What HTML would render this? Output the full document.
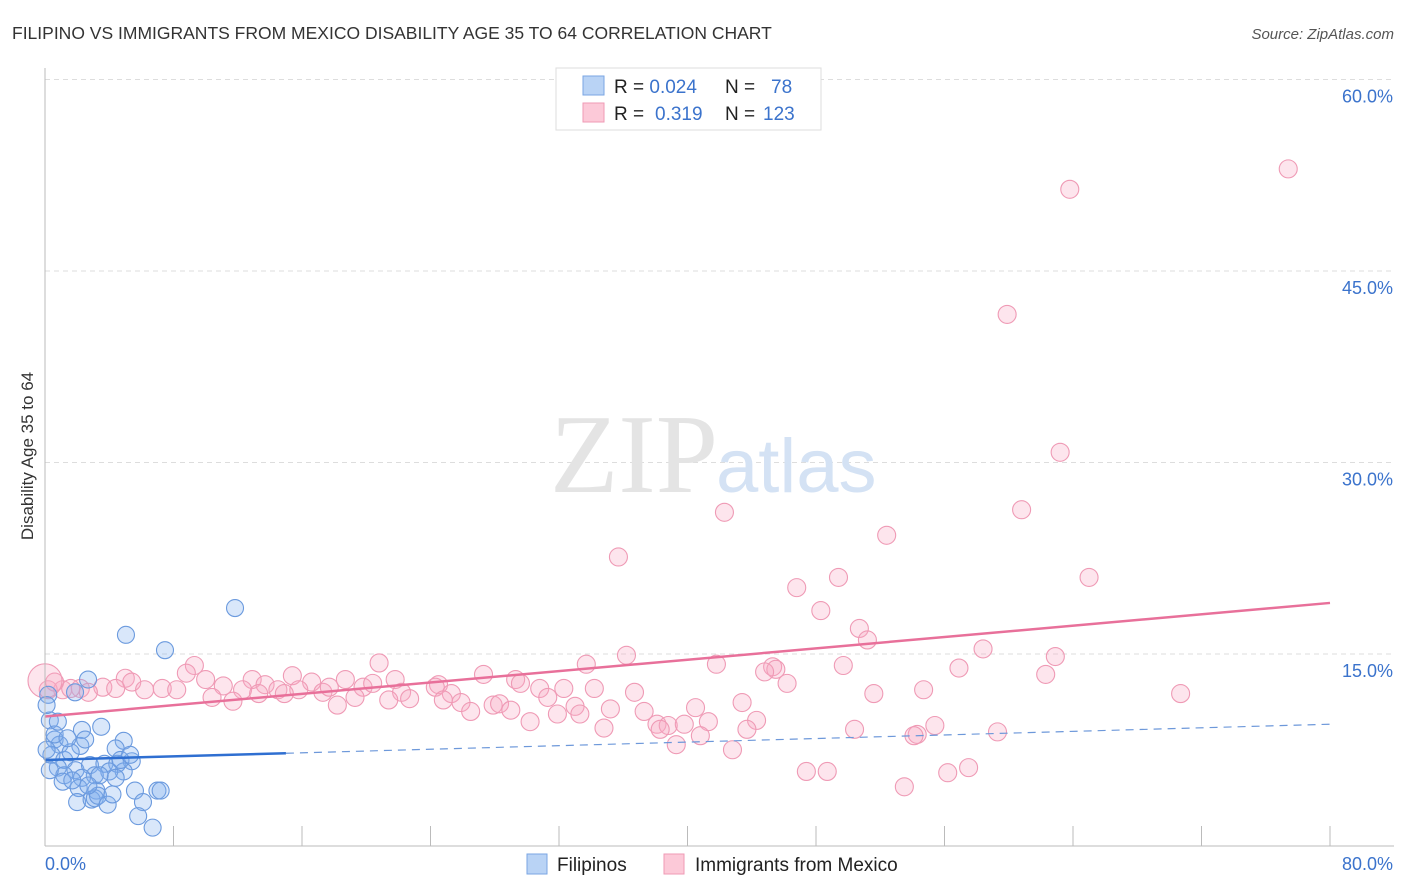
<!DOCTYPE html>
<html><head><meta charset="utf-8">
<style>
body{margin:0;background:#fff;font-family:"Liberation Sans",sans-serif;}
#wrap{position:relative;width:1406px;height:892px;overflow:hidden;}
</style></head>
<body>
<div id="wrap">
<svg id="svg" width="1406" height="892" xmlns="http://www.w3.org/2000/svg">
<text x="12" y="39" font-size="17.5" fill="#333">FILIPINO VS IMMIGRANTS FROM MEXICO DISABILITY AGE 35 TO 64 CORRELATION CHART</text>
<text x="1394" y="39" font-size="15" fill="#555" font-style="italic" text-anchor="end">Source: ZipAtlas.com</text>
<text x="33" y="456" font-size="17" fill="#333" text-anchor="middle" transform="rotate(-90 33 456)">Disability Age 35 to 64</text>
<g id="grid"></g>
<text x="718" y="492" font-size="112" fill="#e4e4e4" text-anchor="end" font-family="Liberation Serif">ZIP</text>
<text x="716" y="492" font-size="76" fill="#d4e2f4">atlas</text>
<g id="pts"></g>
<g id="lines"></g>
<g id="axes"></g>
<g>
<rect x="556" y="68" width="265" height="62" fill="#fff" stroke="#ddd"/>
<rect x="583" y="76" width="21" height="19" fill="#b9d3f5" stroke="#7aa6e3"/>
<rect x="583" y="103" width="21" height="19" fill="#fcc9d8" stroke="#ef9ab5"/>
<text x="614" y="93" font-size="19" fill="#222">R = <tspan fill="#3b73cc">0.024</tspan><tspan x="725">N = </tspan><tspan x="771" fill="#3b73cc">78</tspan></text>
<text x="614" y="120" font-size="19" fill="#222">R = <tspan x="655" fill="#3b73cc">0.319</tspan><tspan x="725">N = </tspan><tspan x="763" fill="#3b73cc">123</tspan></text>
</g>
<g>
<rect x="527" y="854" width="20" height="20" fill="#b9d3f5" stroke="#7aa6e3"/>
<text x="557" y="871" font-size="19" fill="#222">Filipinos</text>
<rect x="664" y="854" width="20" height="20" fill="#fcc9d8" stroke="#ef9ab5"/>
<text x="695" y="871" font-size="19" fill="#222">Immigrants from Mexico</text>
</g>
</svg>
</div>
<script>
const yTicks=[15,30,45,60];
const yTickLabels=["15.0%","30.0%","45.0%","60.0%"];
const xTickLabels=["0.0%","80.0%"];
const blueX=[11.83,5.04,7.47,2.68,1.87,0.2,0.3,2.3,3.5,4.9,4.4,2.2,0.6,0.9,0.4,1.2,1.6,0.8,1.9,2.8,3.7,4.5,5.4,4.9,4.0,3.1,1.2,2.3,4.4,1.1,2.1,3.2,5.6,7.0,7.2,2.0,2.9,3.1,3.3,3.9,6.1,5.8,6.7,0.3,0.1,0.6,1.4,2.5,3.4,4.7,1.7,2.7,0.8,0.1,5.3,4.2];
const blueY=[18.6,16.5,15.3,13.0,12.0,11.8,9.8,9.05,9.3,8.2,7.6,7.8,8.3,7.9,7.1,6.7,7.3,6.1,5.9,6.3,6.4,6.4,6.6,5.8,5.8,5.5,5.5,5.3,5.3,5.0,4.5,4.3,4.3,4.3,4.3,3.4,3.6,3.7,3.9,3.2,3.4,2.3,1.4,5.9,7.5,8.7,8.4,8.3,5.5,6.7,5.1,4.7,9.7,11.0,7.1,4.0];
const pinkX=[77.4,63.8,59.9,63.2,42.3,60.8,52.4,35.7,65.0,49.4,46.8,48.3,50.7,51.2,36.2,62.9,58.4,41.8,33.7,20.8,45.3,45.5,49.7,56.9,9.3,8.8,15.4,27.3,44.8,62.3,46.2,29.3,29.6,21.8,18.7,16.6,12.9,5.0,5.4,1.1,2.2,3.6,4.4,6.2,7.3,8.2,10.0,11.1,12.3,13.7,14.5,15.8,17.3,17.7,19.8,20.4,22.2,24.5,24.3,25.3,30.8,32.3,34.2,36.7,54.7,51.6,70.7,10.4,11.7,13.3,14.9,19.3,21.4,22.7,24.8,18.2,25.9,27.9,28.3,31.3,33.0,29.0,26.5,31.9,33.3,35.2,37.3,40.5,43.4,30.2,38.1,38.8,39.8,41.3,44.3,55.4,34.8,38.3,43.7,50.4,54.3,54.1,59.3,40.8,39.3,42.8,47.4,48.7,56.2,57.5,53.5,0.2,0.6,1.6,2.7];
const pinkY=[53.0,51.4,41.6,30.8,26.1,26.3,24.3,22.6,21.0,21.0,20.2,18.4,17.0,16.1,14.9,14.8,15.4,14.2,14.2,14.3,14.0,13.8,14.1,13.9,14.1,13.5,13.3,13.4,13.6,13.4,12.7,13.0,12.7,13.0,13.0,12.8,13.0,13.1,12.8,12.2,12.3,12.4,12.3,12.2,12.3,12.2,13.0,12.5,12.2,12.6,12.2,12.2,12.0,12.4,12.4,12.7,12.0,12.6,12.4,11.9,12.3,12.3,12.3,12.0,12.2,11.9,11.9,11.6,11.3,11.9,11.9,11.6,11.4,11.5,11.4,11.0,11.2,11.0,11.1,11.6,10.9,10.6,10.5,10.3,10.3,10.7,10.5,10.8,11.2,9.7,9.5,9.4,9.5,9.7,9.8,9.4,9.2,9.1,9.1,9.1,8.7,8.6,8.9,8.6,7.9,7.5,5.8,5.8,5.7,6.1,4.6,12.2,12.8,12.3,12.0];
const blueTrend=[6.7,9.5];
const pinkTrend=[10.1,19.0];
const NS="http://www.w3.org/2000/svg";
const X0=45,X1=1330,Y0=845.5,YPER=191.5/15;
const sx=v=>X0+(X1-X0)*v/80;
const sy=v=>Y0-v*YPER;
function mk(tag,attrs,parent){const e=document.createElementNS(NS,tag);for(const k in attrs)e.setAttribute(k,attrs[k]);parent.appendChild(e);return e;}
const grid=document.getElementById('grid'),axes=document.getElementById('axes'),pts=document.getElementById('pts'),lines=document.getElementById('lines');
yTicks.forEach((t,i)=>{
 const l=mk('line',{x1:X0,x2:1394,y1:sy(t),y2:sy(t),stroke:'#ddd','stroke-dasharray':'5,4'},grid);
 
 
 const tx=mk('text',{x:1393,y:sy(t)+23,'font-size':18,fill:'#3b73cc','text-anchor':'end'},axes);
 tx.textContent=yTickLabels[i];
 
 
});
const ax=mk('line',{x1:X0,x2:X0,y1:68,y2:846,stroke:'#bbb'},axes);


const bx=mk('line',{x1:X0,x2:1394,y1:846,y2:846,stroke:'#bbb'},axes);


for(let i=1;i<=10;i++){const t=mk('line',{x1:sx(i*8),x2:sx(i*8),y1:826,y2:846,stroke:'#bbb'},axes);
 
 }
[[0,'start',45],[80,'end',1393]].forEach((d,i)=>{const t=mk('text',{x:d[2],y:870,'font-size':18,fill:'#3b73cc','text-anchor':d[1]},axes);t.textContent=xTickLabels[i];
 
 });
pinkX.forEach((x,i)=>{const c=mk('circle',{cx:sx(x),cy:sy(pinkY[i]),r:9,fill:'rgba(248,170,195,0.3)',stroke:'#ef9ab5','stroke-width':1.1},pts);
 
 });
const big=mk('circle',{cx:sx(0),cy:sy(12.9),r:17,fill:'rgba(248,170,195,0.3)',stroke:'#ef9ab5','stroke-width':1.1},pts);


blueX.forEach((x,i)=>{const c=mk('circle',{cx:sx(x),cy:sy(blueY[i]),r:8.5,fill:'rgba(130,175,240,0.3)',stroke:'#6b9ade','stroke-width':1.1},pts);
 
 });
const by=x=>blueTrend[0]+(blueTrend[1]-blueTrend[0])*x/80;
const p=mk('line',{x1:sx(0),y1:sy(pinkTrend[0]),x2:sx(80),y2:sy(pinkTrend[1]),stroke:'#e8709a','stroke-width':2.5},lines);


const b1=mk('line',{x1:sx(0),y1:sy(by(0)),x2:sx(15),y2:sy(by(15)),stroke:'#2f6fd1','stroke-width':2.5},lines);


const b2=mk('line',{x1:sx(15),y1:sy(by(15)),x2:sx(80),y2:sy(by(80)),stroke:'#6d98da','stroke-width':1.2,'stroke-dasharray':'8,6'},lines);


</script>
</body></html>
